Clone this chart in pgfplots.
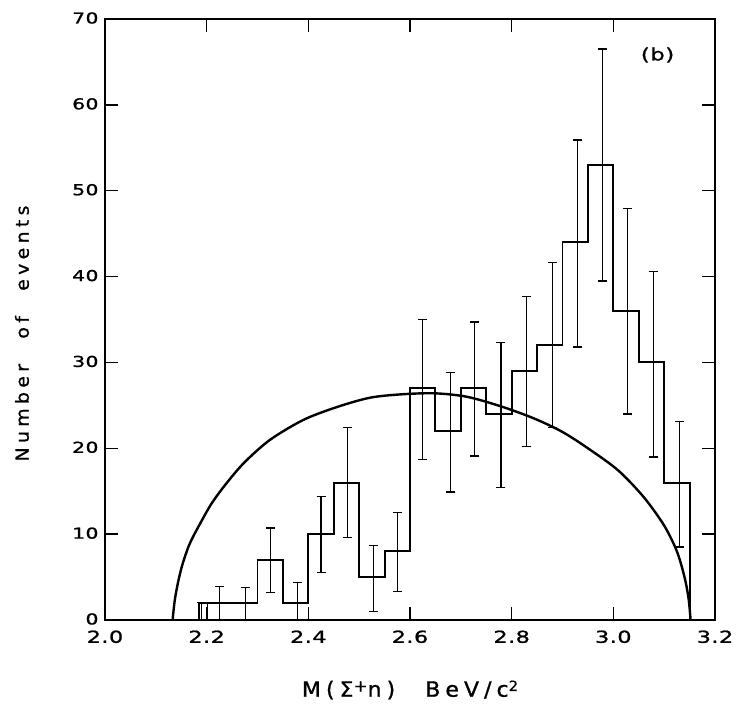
\documentclass[border=0pt]{standalone}
\usepackage{fontspec}
\setmainfont{DejaVu Sans}
\newfontfamily\tickfont[FakeStretch=1.35,LetterSpace=3,FakeBold=1.2]{DejaVu Sans}
\newfontfamily\labfont[FakeStretch=1.05,LetterSpace=24,FakeBold=1.0]{DejaVu Sans}
\usepackage{pgfplots}
\usepackage{pgfplotstable}
\pgfplotsset{compat=1.18}

\pgfplotstableread{
x y ep em
2.190 2 0 2
2.201 2 0 2
2.225 2 1.9 2
2.276 2 1.8 2
2.326 7 3.7 3.8
2.379 2 2.4 2
2.425 10 4.4 4.5
2.477 16 6.4 6.4
2.528 5 3.7 4.0
2.575 8 4.5 4.7
2.625 27 8.0 8.3
2.679 22 6.8 7.1
2.727 27 7.7 7.9
2.779 24 8.3 8.6
2.830 29 8.7 8.8
2.881 32 9.6 9.6
2.930 44 11.9 12.2
2.979 53 13.5 13.5
3.028 36 11.9 12.0
3.079 30 10.6 11.0
3.131 16 7.1 7.5
}\errdata

\begin{document}
\begin{tikzpicture}
\begin{axis}[
  at={(0,0)}, anchor=south west,
  scale only axis, width=610pt, height=601pt,
  xmin=2.0, xmax=3.2, ymin=0, ymax=70,
  xtick={2.0,2.2,2.4,2.6,2.8,3.0,3.2},
  ytick={0,10,20,30,40,50,60,70},
  xticklabels={2.0,2.2,2.4,2.6,2.8,3.0,3.2},
  tick align=inside, major tick length=13pt,
  tick style={line width=1.3pt, black},
  axis line style={line width=1.6pt},
  /pgf/number format/assume math mode=true,
  xticklabel style={font=\tickfont\fontsize{16.5}{16.5}\selectfont, yshift=-7pt},
  yticklabel style={font=\tickfont\fontsize{15}{15}\selectfont, xshift=-3pt, yshift=1pt},
  clip=false,
]
% phase space curve
\addplot[black, line width=2.4pt, smooth, tension=0.5] coordinates {
(2.133,0)(2.137,2.2)(2.143,4.2)(2.152,6.4)(2.166,8.8)(2.185,11.0)(2.210,13.6)
(2.240,16.0)(2.275,18.4)(2.325,21.0)(2.390,23.3)(2.456,24.8)(2.522,25.9)
(2.587,26.3)(2.650,26.4)(2.712,26.0)(2.778,24.9)(2.843,23.5)(2.900,21.9)
(2.955,19.8)(3.010,17.4)(3.060,14.3)(3.100,11.0)(3.125,8.0)(3.140,5.0)
(3.148,2.5)(3.152,0)};
% histogram
\addplot[black, line width=1.9pt, const plot] coordinates {
(2.185,0)(2.185,2)(2.30,7)(2.35,2)(2.40,10)(2.45,16)(2.50,5)(2.55,8)(2.60,27)
(2.65,22)(2.70,27)(2.75,24)(2.80,29)(2.85,32)(2.90,44)(2.95,53)(3.00,36)
(3.05,30)(3.10,16)(3.15,0)};
% error bars
\addplot[only marks, mark=*, mark options={scale=0, draw=none, fill=none}, black,
  error bars/.cd, y dir=both, y explicit,
  error bar style={line width=1.1pt, black},
  error mark options={rotate=90, mark size=4.5pt, line width=1.3pt, black, draw=black}]
  table[x=x, y=y, y error plus=ep, y error minus=em] {\errdata};
\node[font=\tickfont\fontsize{17}{17}\selectfont] at (axis cs:3.087,65.8) {(b)};
\node[font=\labfont\fontsize{21}{21}\selectfont] at ([yshift=-70pt]axis description cs:0.5,0)
  {M(Σ\raisebox{0.45ex}{\fontsize{16}{16}\selectfont +}n)\hspace{30pt}BeV/c\raisebox{0.5ex}{\fontsize{14}{14}\selectfont 2}};
\node[font=\labfont\fontsize{18}{18}\selectfont, rotate=90] at ([xshift=-83pt,yshift=-14pt]axis description cs:0,0.5)
  {Number\hspace{15pt} of\hspace{15pt} events};
\end{axis}
\path[use as bounding box] (-105pt,-85pt) rectangle (638pt,620pt);
\end{tikzpicture}
\end{document}
